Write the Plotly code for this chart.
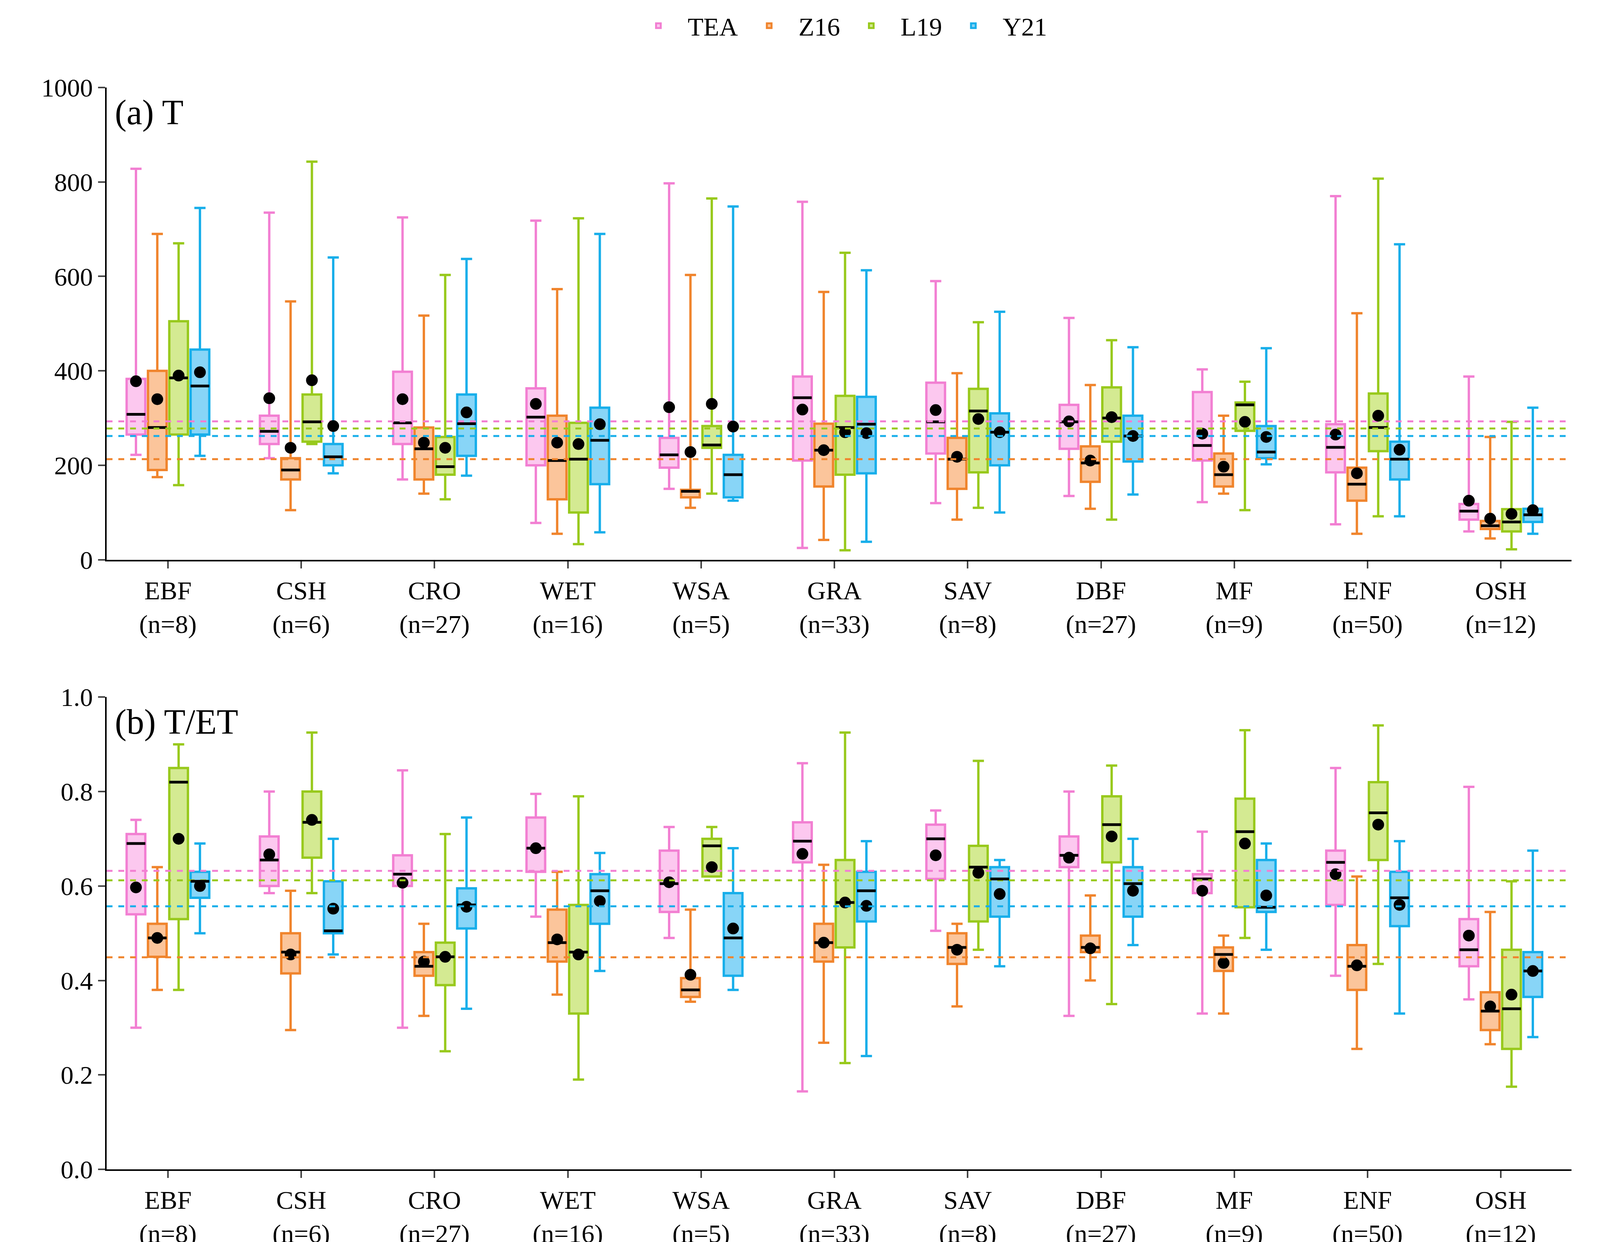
import plotly.graph_objects as go
from plotly.subplots import make_subplots

biomes = ['EBF', 'CSH', 'CRO', 'WET', 'WSA', 'GRA', 'SAV', 'DBF', 'MF', 'ENF', 'OSH']
n_sites = [8, 6, 27, 16, 5, 33, 8, 27, 9, 50, 12]
products = ['TEA', 'Z16', 'L19', 'Y21']
line_colors = ['#f27fd2', '#f0842c', '#98c91c', '#17aeea']
fill_colors = ['#fcc8ef', '#fbc59b', '#d4ea92', '#88d5f7']

# per biome: [lower, q1, median, q3, upper, mean]
t_stats = {
    'TEA': [[222, 265, 308, 383, 828, 378], [215, 245, 272, 305, 735, 342], [170, 245, 290, 398, 725, 340],
            [78, 200, 302, 363, 718, 330], [150, 195, 222, 258, 797, 323], [25, 210, 343, 388, 758, 318],
            [120, 225, 292, 375, 590, 317], [135, 235, 292, 328, 512, 293], [122, 210, 242, 355, 403, 267],
            [75, 185, 238, 287, 770, 265], [60, 85, 103, 118, 388, 125]],
    'Z16': [[175, 190, 280, 400, 690, 340], [105, 170, 190, 215, 547, 237], [140, 170, 235, 280, 517, 248],
            [55, 128, 210, 305, 573, 248], [110, 132, 145, 148, 603, 228], [42, 155, 232, 288, 567, 232],
            [85, 150, 213, 258, 395, 218], [108, 165, 205, 240, 370, 210], [140, 155, 180, 225, 305, 197],
            [55, 125, 160, 195, 522, 183], [45, 65, 72, 82, 260, 87]],
    'L19': [[158, 265, 385, 505, 670, 390], [245, 250, 292, 350, 843, 380], [128, 180, 197, 260, 603, 237],
            [33, 100, 213, 290, 723, 245], [140, 237, 243, 283, 765, 330], [20, 180, 280, 347, 650, 270],
            [110, 185, 315, 362, 503, 298], [85, 250, 300, 365, 465, 302], [105, 273, 328, 333, 377, 292],
            [92, 230, 280, 352, 807, 305], [22, 60, 80, 107, 292, 97]],
    'Y21': [[220, 265, 368, 445, 745, 397], [183, 200, 218, 245, 640, 283], [178, 220, 288, 350, 637, 312],
            [58, 160, 253, 322, 690, 287], [125, 132, 180, 222, 748, 282], [38, 183, 287, 345, 613, 268],
            [100, 200, 270, 310, 525, 270], [138, 208, 262, 305, 450, 262], [202, 215, 228, 283, 448, 260],
            [92, 170, 213, 250, 668, 233], [55, 80, 95, 108, 322, 105]],
}
tet_stats = {
    'TEA': [[0.30, 0.54, 0.69, 0.71, 0.74, 0.597], [0.585, 0.60, 0.655, 0.705, 0.80, 0.667],
            [0.30, 0.60, 0.625, 0.665, 0.845, 0.607], [0.535, 0.63, 0.68, 0.745, 0.795, 0.68],
            [0.49, 0.545, 0.605, 0.675, 0.725, 0.608], [0.165, 0.65, 0.695, 0.735, 0.86, 0.668],
            [0.505, 0.615, 0.70, 0.73, 0.76, 0.665], [0.325, 0.64, 0.665, 0.705, 0.80, 0.66],
            [0.33, 0.585, 0.615, 0.625, 0.715, 0.59], [0.41, 0.56, 0.65, 0.675, 0.85, 0.625],
            [0.36, 0.43, 0.465, 0.53, 0.81, 0.495]],
    'Z16': [[0.38, 0.45, 0.49, 0.52, 0.64, 0.49], [0.295, 0.415, 0.46, 0.50, 0.59, 0.455],
            [0.325, 0.41, 0.43, 0.46, 0.52, 0.44], [0.37, 0.44, 0.48, 0.55, 0.63, 0.487],
            [0.355, 0.365, 0.38, 0.405, 0.55, 0.412], [0.268, 0.44, 0.48, 0.52, 0.645, 0.48],
            [0.345, 0.435, 0.47, 0.50, 0.52, 0.465], [0.40, 0.46, 0.47, 0.495, 0.58, 0.468],
            [0.33, 0.42, 0.455, 0.47, 0.495, 0.437], [0.255, 0.38, 0.43, 0.475, 0.62, 0.432],
            [0.265, 0.295, 0.335, 0.375, 0.545, 0.345]],
    'L19': [[0.38, 0.53, 0.82, 0.85, 0.90, 0.70], [0.585, 0.66, 0.735, 0.80, 0.925, 0.74],
            [0.25, 0.39, 0.45, 0.48, 0.71, 0.45], [0.19, 0.33, 0.46, 0.56, 0.79, 0.455],
            [0.62, 0.62, 0.685, 0.70, 0.725, 0.64], [0.225, 0.47, 0.565, 0.655, 0.925, 0.565],
            [0.465, 0.525, 0.64, 0.685, 0.865, 0.628], [0.35, 0.65, 0.73, 0.79, 0.855, 0.705],
            [0.49, 0.555, 0.715, 0.785, 0.93, 0.69], [0.435, 0.655, 0.755, 0.82, 0.94, 0.73],
            [0.175, 0.255, 0.34, 0.465, 0.61, 0.37]],
    'Y21': [[0.50, 0.575, 0.61, 0.63, 0.69, 0.60], [0.455, 0.50, 0.505, 0.61, 0.70, 0.552],
            [0.34, 0.51, 0.56, 0.595, 0.745, 0.556], [0.42, 0.52, 0.59, 0.625, 0.67, 0.568],
            [0.38, 0.41, 0.49, 0.585, 0.68, 0.51], [0.24, 0.525, 0.59, 0.63, 0.695, 0.558],
            [0.43, 0.535, 0.615, 0.64, 0.655, 0.583], [0.475, 0.535, 0.605, 0.64, 0.70, 0.59],
            [0.465, 0.545, 0.555, 0.655, 0.69, 0.58], [0.33, 0.515, 0.575, 0.63, 0.695, 0.56],
            [0.28, 0.365, 0.42, 0.46, 0.675, 0.42]],
}
t_overall = [293, 213, 278, 262]
tet_overall = [0.632, 0.449, 0.612, 0.557]

offsets = [-0.24, -0.08, 0.08, 0.24]
box_w = 0.14
tick_text = [f'{b}<br>(n={n})' for b, n in zip(biomes, n_sites)]

fig = make_subplots(rows=2, cols=1, vertical_spacing=0.127)

for row, stats, overall in [(1, t_stats, t_overall), (2, tet_stats, tet_overall)]:
    for k, p in enumerate(products):
        s = stats[p]
        xs = [i + offsets[k] for i in range(len(biomes))]
        fig.add_trace(go.Box(
            x=xs, lowerfence=[v[0] for v in s], q1=[v[1] for v in s], median=[v[2] for v in s],
            q3=[v[3] for v in s], upperfence=[v[4] for v in s], width=box_w, whiskerwidth=0.6,
            fillcolor=fill_colors[k], line=dict(color=line_colors[k], width=6), name=p,
            showlegend=False, hoverinfo='skip'), row=row, col=1)
        mx, my = [], []
        for x, v in zip(xs, s):
            mx += [x - box_w / 2, x + box_w / 2, None]
            my += [v[2], v[2], None]
        fig.add_trace(go.Scatter(x=mx, y=my, mode='lines', line=dict(color='black', width=7),
                                 showlegend=False, hoverinfo='skip'), row=row, col=1)
        fig.add_trace(go.Scatter(x=xs, y=[v[5] for v in s], mode='markers',
                                 marker=dict(color='black', size=30), showlegend=False,
                                 hoverinfo='skip'), row=row, col=1)
        fig.add_trace(go.Scatter(x=[-0.46, 10.53], y=[overall[k]] * 2, mode='lines',
                                 line=dict(color=line_colors[k], width=5, dash='dash'),
                                 showlegend=False, hoverinfo='skip'), row=row, col=1)

# legend entries
for k, p in enumerate(products):
    fig.add_trace(go.Bar(x=[None], y=[None], name=p, marker=dict(color=fill_colors[k],
                         line=dict(color=line_colors[k], width=6))), row=1, col=1)

axis_font = dict(family='Liberation Serif', size=66, color='black')
for row in [1, 2]:
    fig.update_xaxes(range=[-0.46, 10.53], tickvals=list(range(len(biomes))), ticktext=tick_text,
                     showline=True, linecolor='black', linewidth=4, ticks='outside', ticklen=18,
                     tickwidth=4, tickfont=axis_font, showgrid=False, zeroline=False, row=row, col=1)
fig.update_yaxes(range=[0, 1000], dtick=200, row=1, col=1)
fig.update_yaxes(range=[0, 1.0], dtick=0.2, tickformat='.1f', row=2, col=1)
fig.update_yaxes(showline=True, linecolor='black', linewidth=4, ticks='outside', ticklen=18,
                 tickwidth=4, tickfont=axis_font, showgrid=False, zeroline=False)

fig.add_annotation(text='(a) T', xref='x domain', yref='y domain', x=0.005, y=0.99, showarrow=False,
                   xanchor='left', yanchor='top', font=dict(family='Liberation Serif', size=90, color='black'))
fig.add_annotation(text='(b) T/ET', xref='x2 domain', yref='y2 domain', x=0.005, y=0.99, showarrow=False,
                   xanchor='left', yanchor='top', font=dict(family='Liberation Serif', size=90, color='black'))

fig.update_layout(
    autosize=True, plot_bgcolor='white', paper_bgcolor='white',
    margin=dict(l=265, r=65, t=216, b=194, autoexpand=False),
    legend=dict(orientation='h', x=0.5, xanchor='center', y=1.075, yanchor='top',
                font=dict(family='Liberation Serif', size=66, color='black'), itemwidth=140),
    boxmode='overlay', showlegend=True,
)

fig.write_html('out.html', default_width='100%', default_height='100vh')
